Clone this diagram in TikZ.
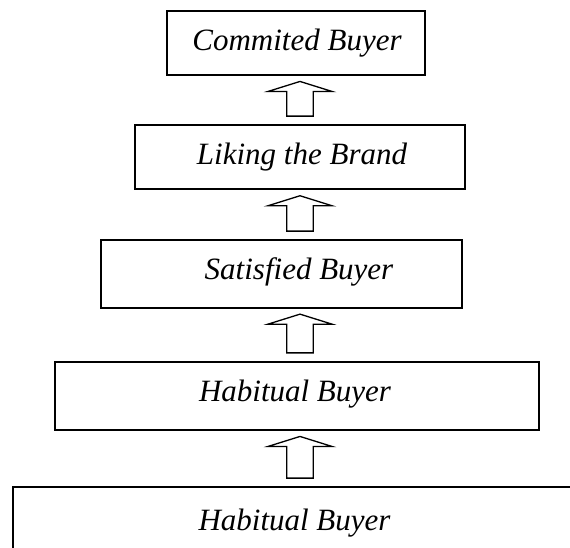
\documentclass[tikz,border=0pt]{standalone}
\usepackage{fontspec}
\setmainfont{Liberation Serif}[ItalicFont={Liberation Serif Italic}]
\newfontfamily\labelfont{Liberation Serif Italic}
\usetikzlibrary{calc}
\tikzset{
  stage/.style={draw=black, line width=1.8pt, rectangle, inner sep=0pt},
  stagetext/.style={anchor=base, inner sep=0pt, font=\labelfont\fontsize{31}{36}\selectfont},
  blockarrow/.style={draw=black, line width=1.3pt, fill=white, line join=miter}
}
% hollow upward block arrow between the top of one stage and the bottom of the next
\newcommand{\stagearrow}[2]{%
  \draw[blockarrow] let \p1=(#1.south), \p2=(#2.north) in
    (300,\y1-5.5) -- (332,\y1-15.5) -- (313.3,\y1-15.5) -- (313.3,\y2+8)
    -- (286.7,\y2+8) -- (286.7,\y1-15.5) -- (268,\y1-15.5) -- cycle;}
\begin{document}
\begin{tikzpicture}[x=1pt,y=1pt]
  \useasboundingbox (0,0) rectangle (570,547);
  \clip (0,0) rectangle (570,547);

  % stage frames
  \node[stage, minimum width=258.3pt, minimum height=63.7pt] (b1) at (295.9,503.8) {};
  \node[stage, minimum width=330pt,   minimum height=64.3pt] (b2) at (300,389.8) {};
  \node[stage, minimum width=361.3pt, minimum height=67.7pt] (b3) at (281.4,273.1) {};
  \node[stage, minimum width=484pt,   minimum height=68.3pt] (b4) at (297,151.1) {};
  \node[stage, minimum width=597pt,   minimum height=70pt]   (b5) at (311.4,25) {};

  % stage labels
  \node[stagetext] (t1) at (297,496.3) {Commited Buyer};
  \node[stagetext] (t2) at (302,382.5) {Liking the Brand};
  \node[stagetext] (t3) at (299,268)   {Satisfied Buyer};
  \node[stagetext] (t4) at (295,145.3) {Habitual Buyer};
  \node[stagetext] (t5) at (294.5,17)  {Habitual Buyer};

  % arrows leading up from each stage to the next
  \stagearrow{b1}{b2}
  \stagearrow{b2}{b3}
  \stagearrow{b3}{b4}
  \stagearrow{b4}{b5}
\end{tikzpicture}
\end{document}
